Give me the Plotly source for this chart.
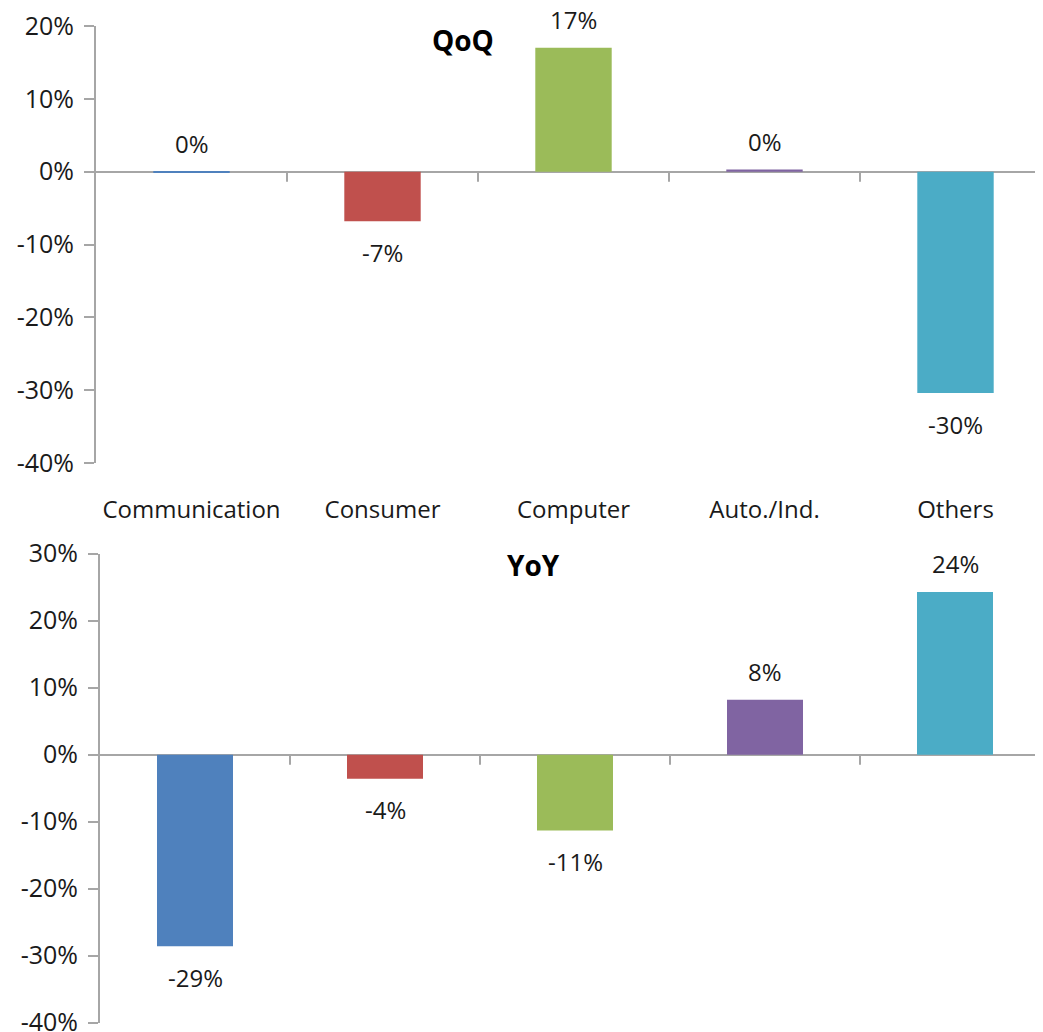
import plotly.graph_objects as go

categories = ["Communication", "Consumer", "Computer", "Auto./Ind.", "Others"]
qoq_values = [-0.2, -6.8, 17.0, 0.3, -30.4]
yoy_values = [-28.6, -3.6, -11.3, 8.2, 24.3]
qoq_label_side = ["above", "below", "above", "above", "below"]
yoy_label_side = ["below", "below", "below", "above", "above"]
y_ticks_qoq = [20, 10, 0, -10, -20, -30, -40]
y_ticks_yoy = [30, 20, 10, 0, -10, -20, -30, -40]

colors = ["#4F81BD", "#C0504D", "#9BBB59", "#8064A2", "#4BACC6"]
FONT = "Open Sans"
TXT = "#1a1a1a"
AX = "#A6A6A6"

W, H = 1043, 1032
OFF = 8  # page body margin in the browser

fig = go.Figure()

fig.add_trace(go.Bar(x=categories, y=qoq_values, marker=dict(color=colors, line=dict(width=0)),
                     width=0.4, xaxis="x", yaxis="y", hoverinfo="skip", showlegend=False))
fig.add_trace(go.Bar(x=categories, y=yoy_values, marker=dict(color=colors, line=dict(width=0)),
                     width=0.4, xaxis="x2", yaxis="y2", hoverinfo="skip", showlegend=False))

annotations = []
for xr, yr, vals, sides in [("x", "y", qoq_values, qoq_label_side), ("x2", "y2", yoy_values, yoy_label_side)]:
    for c, v, s in zip(categories, vals, sides):
        base = v if ((s == "above") == (v >= 0)) else 0
        annotations.append(dict(x=c, y=base, xref=xr, yref=yr, text=f"{round(v)}%", showarrow=False,
                                yanchor="middle", yshift=(28 if s == "above" else -31),
                                font=dict(family=FONT, size=24, color=TXT)))

annotations.append(dict(x=(463 - OFF) / W, y=1 - (40 - OFF) / H, xref="paper", yref="paper",
                        text="<b>QoQ</b>", showarrow=False, xanchor="center", yanchor="middle",
                        font=dict(family=FONT, size=28, color="#000")))
annotations.append(dict(x=(533 - OFF) / W, y=1 - (565 - OFF) / H, xref="paper", yref="paper",
                        text="<b>YoY</b>", showarrow=False, xanchor="center", yanchor="middle",
                        font=dict(family=FONT, size=28, color="#000")))

shapes = []
for xr, yr in [("x", "y"), ("x2", "y2")]:
    for i in range(len(categories)):
        shapes.append(dict(type="line", xref=xr, yref=yr, x0=i + 0.5, x1=i + 0.5,
                           ysizemode="pixel", yanchor=0, y0=0, y1=-10,
                           line=dict(color=AX, width=2)))

yaxis_common = dict(ticks="outside", ticklen=10, tickcolor=AX, tickwidth=2, showline=True,
                    linecolor=AX, linewidth=2, showgrid=False, zeroline=True, zerolinecolor=AX,
                    zerolinewidth=2, ticklabelstandoff=5, automargin=False,
                    ticklabeloverflow="allow",
                    tickfont=dict(family=FONT, size=25, color=TXT))

fig.update_layout(
    width=W, height=H,
    margin=dict(l=0, r=0, t=0, b=0, pad=0, autoexpand=False),
    paper_bgcolor="white", plot_bgcolor="white",
    xaxis=dict(domain=[(96 - OFF) / W, 1], range=[-0.5, -0.5 + (W - 96 + OFF) / 191], anchor="y",
               showline=False, ticks="", showgrid=False, zeroline=False, automargin=False,
               tickfont=dict(family=FONT, size=24, color=TXT), ticklabelstandoff=30),
    yaxis=dict(domain=[1 - (463 - OFF) / H, 1 - (26 - OFF) / H], range=[-40, 20], tickvals=y_ticks_qoq,
               ticktext=[f"{t}%" for t in y_ticks_qoq], anchor="x", **yaxis_common),
    xaxis2=dict(domain=[(100 - OFF) / W, 1], range=[-0.5, -0.5 + (W - 100 + OFF) / 190], anchor="y2",
                showline=False, ticks="", showgrid=False, zeroline=False, showticklabels=False,
                automargin=False),
    yaxis2=dict(domain=[1 - (1022.7 - OFF) / H, 1 - (553.7 - OFF) / H], range=[-40, 30],
                tickvals=y_ticks_yoy, ticktext=[f"{t}%" for t in y_ticks_yoy], anchor="x2",
                **yaxis_common),
    annotations=annotations,
    shapes=shapes,
)

fig.write_html("out.html")
